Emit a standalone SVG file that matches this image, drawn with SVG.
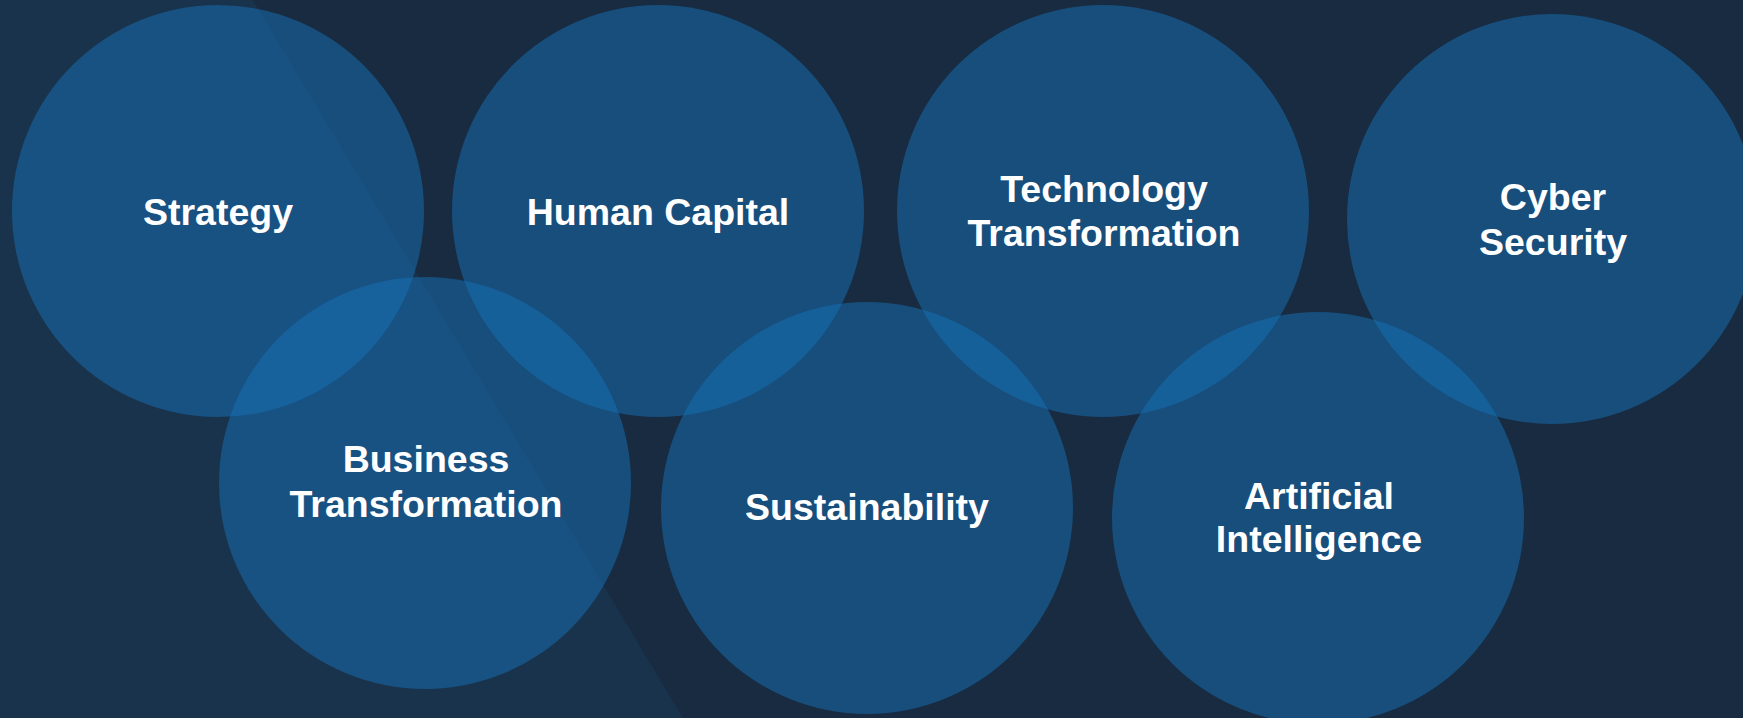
<svg xmlns="http://www.w3.org/2000/svg" width="1743" height="718" viewBox="0 0 1743 718">
  <style>
    .bubble { fill: #1572b8; fill-opacity: 0.5; }
    .label { font-family: "Liberation Sans", Arial, sans-serif; font-weight: bold; font-size: 37.5px; fill: #ffffff; text-anchor: middle; }
  </style>
  <rect x="0" y="0" width="1743" height="718" fill="#182b40"/>
  <polygon points="0,0 253,0 683,718 0,718" fill="#1a334c"/>
  <g id="connectors"></g>
  <g id="strategy">
    <circle class="bubble" cx="218" cy="211" r="206"/>
    <text class="label" x="218" y="225">Strategy</text>
  </g>
  <g id="human-capital">
    <circle class="bubble" cx="658" cy="211" r="206"/>
    <text class="label" x="658" y="225">Human Capital</text>
  </g>
  <g id="technology-transformation">
    <circle class="bubble" cx="1103" cy="211" r="206"/>
    <text class="label" x="1104" y="202">Technology</text>
    <text class="label" x="1104" y="246">Transformation</text>
  </g>
  <g id="cyber-security">
    <circle class="bubble" cx="1552" cy="219" r="205"/>
    <text class="label" x="1553" y="210">Cyber</text>
    <text class="label" x="1553" y="255">Security</text>
  </g>
  <g id="business-transformation">
    <circle class="bubble" cx="425" cy="483" r="206"/>
    <text class="label" x="426" y="472">Business</text>
    <text class="label" x="426" y="517">Transformation</text>
  </g>
  <g id="sustainability">
    <circle class="bubble" cx="867" cy="508" r="206"/>
    <text class="label" x="867" y="520">Sustainability</text>
  </g>
  <g id="artificial-intelligence">
    <circle class="bubble" cx="1318" cy="518" r="206"/>
    <text class="label" x="1319" y="509">Artificial</text>
    <text class="label" x="1319" y="552">Intelligence</text>
  </g>
</svg>
